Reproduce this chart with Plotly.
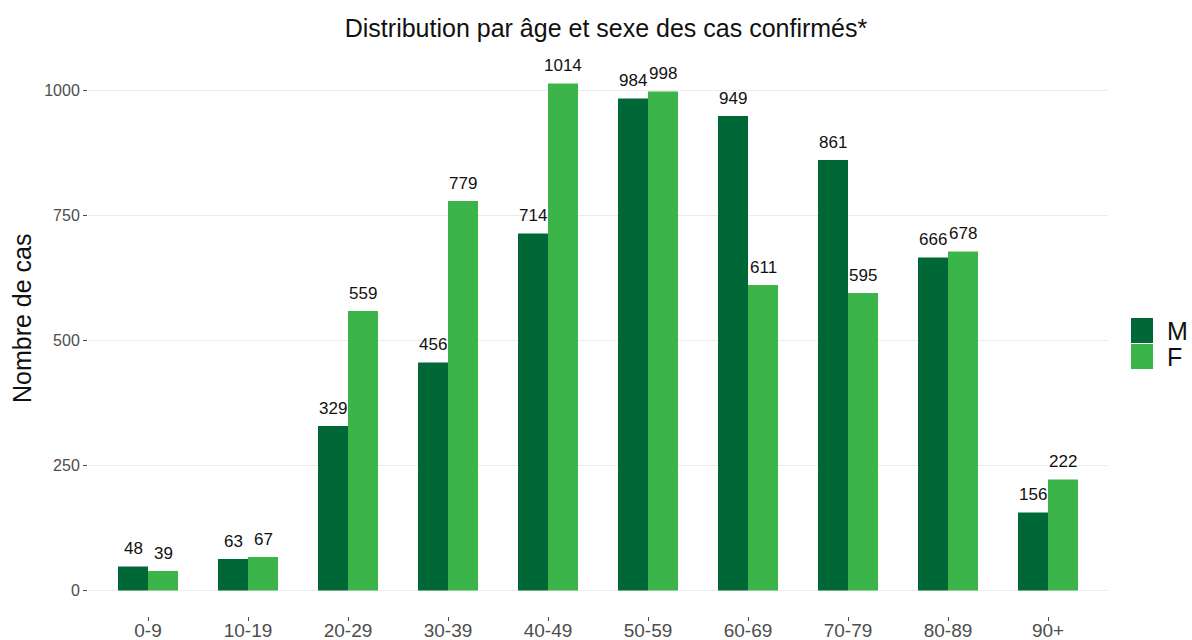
import plotly.graph_objects as go

categories = ["0-9", "10-19", "20-29", "30-39", "40-49", "50-59", "60-69", "70-79", "80-89", "90+"]
male = [48, 63, 329, 456, 714, 984, 949, 861, 666, 156]
female = [39, 67, 559, 779, 1014, 998, 611, 595, 678, 222]
series = [("M", male, "#006837"), ("F", female, "#3BB54A")]
y_ticks = [0, 250, 500, 750, 1000]

W, H = 1192, 640
L, R, T, B = 88, 84, 58, 24
pw = W - L - R
ph = H - T - B

fig = go.Figure()
for name, vals, col in series:
    fig.add_trace(go.Bar(x=categories, y=vals, name=name, marker_color=col,
                         marker_line_width=0, showlegend=False))

# value labels
for i, (name, vals, col) in enumerate(series):
    shift = -15 if i == 0 else 15
    for c, v in zip(categories, vals):
        fig.add_annotation(x=c, y=v, text=str(v), showarrow=False, xshift=shift, yshift=18,
                           yanchor="middle", font=dict(size=17, color="#111111"))

# legend (manual)
lx0 = 1131
for i, (name, vals, col) in enumerate(series):
    y0 = 318 + i * 26
    fig.add_shape(type="rect", xref="paper", yref="paper",
                  x0=(lx0 - L) / pw, x1=(lx0 + 22 - L) / pw,
                  y0=1 - (y0 - T) / ph, y1=1 - (y0 + 25 - T) / ph,
                  fillcolor=col, line=dict(width=0))
    fig.add_annotation(xref="paper", yref="paper", x=(1166 - L) / pw,
                       y=1 - (y0 + 13 - T) / ph, text=name, showarrow=False,
                       xanchor="left", yanchor="middle", height=24, borderpad=0,
                       font=dict(size=25, color="#111111"))

fig.add_annotation(xref="paper", yref="paper", x=(22 - L) / pw, y=1 - (318 - T) / ph,
                   text="Nombre de cas",
                   textangle=-90, showarrow=False, xanchor="center", yanchor="middle",
                   font=dict(size=25, color="#111111"))

fig.update_layout(
    width=W, height=H,
    margin=dict(l=L, r=R, t=T, b=B, autoexpand=False),
    paper_bgcolor="white", plot_bgcolor="white",
    font=dict(family="Liberation Sans, Arial, sans-serif"),
    barmode="group", bargap=0.4, bargroupgap=0,
    title=dict(text="Distribution par âge et sexe des cas confirmés*", x=606 / W, xref="container",
               xanchor="center", y=1 - 28 / H, yref="container", yanchor="middle",
               font=dict(size=25, color="#111111")),
    showlegend=False,
)
fig.update_xaxes(range=[-0.6, 9.6], showgrid=False, zeroline=False, showline=False,
                 ticks="outside", ticklen=4, tickcolor="#4d4d4d", tickwidth=1,
                 ticklabelstandoff=-7,
                 tickfont=dict(size=19, color="#4d4d4d"), automargin=False)
fig.update_yaxes(range=[-51, 1065], tickvals=y_ticks, showgrid=True, gridcolor="#ebebeb",
                 gridwidth=1, zeroline=False, showline=False,
                 ticks="outside", ticklen=4, tickcolor="#4d4d4d", tickwidth=1,
                 tickfont=dict(size=16, color="#4d4d4d"), automargin=False)

fig.write_html("out.html", config={"displayModeBar": False},
               post_script="document.body.style.margin='0px';")
